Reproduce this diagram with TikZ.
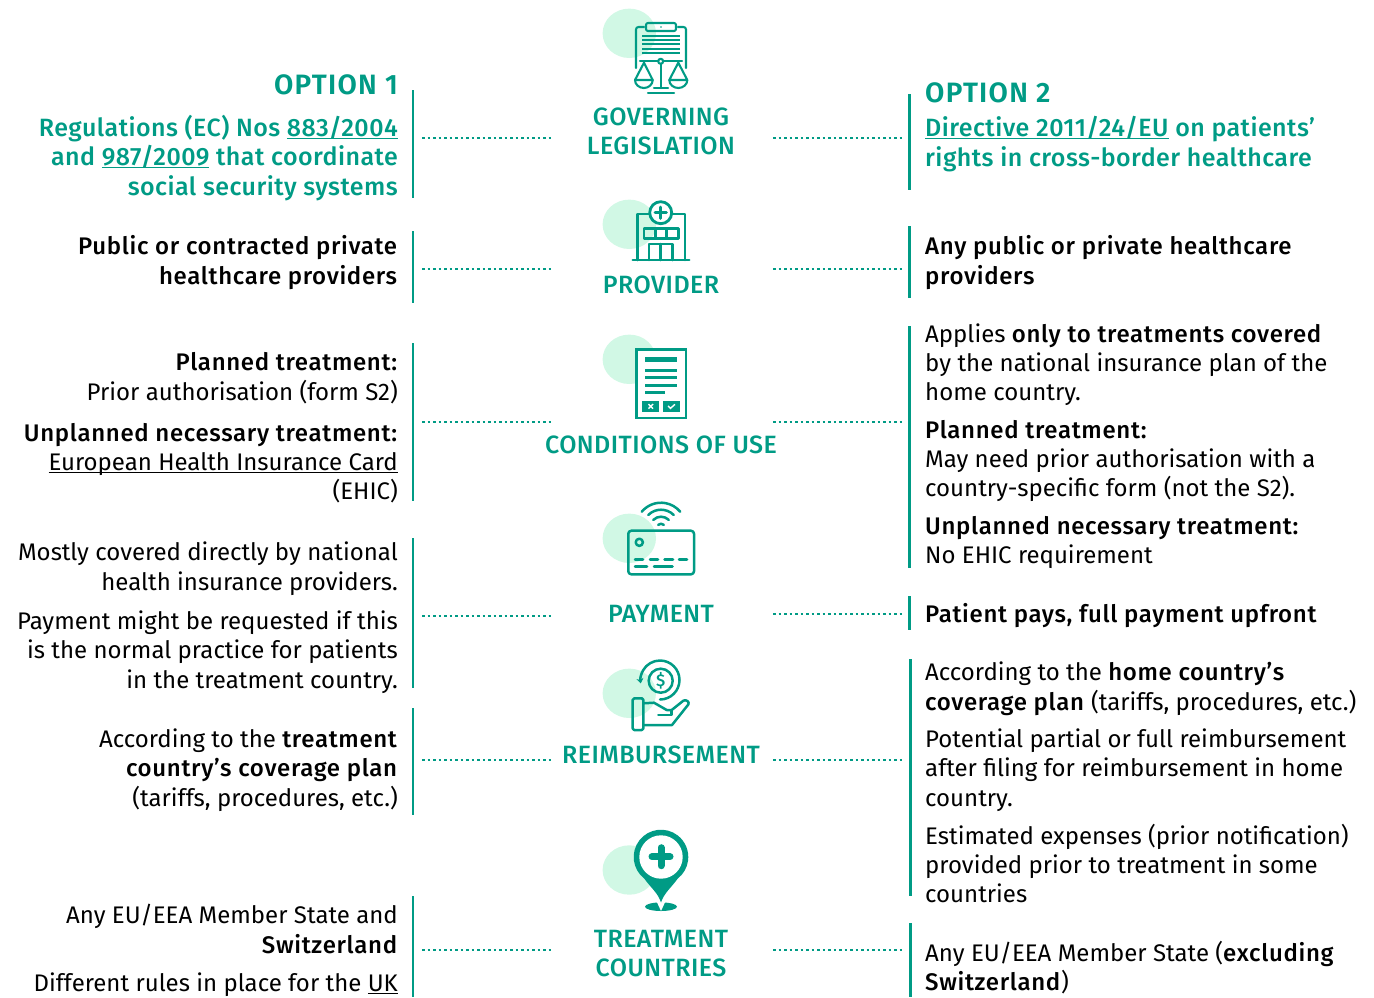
\documentclass[tikz,border=0pt]{standalone}
\usepackage{fontspec}
\setmainfont{Fira Sans}[BoldFont={Fira Sans Medium},BoldFeatures={LetterSpace=2.8}]
\newfontfamily\medfont{Fira Sans Medium}[LetterSpace=1.8]
\newfontfamily\headfont{Fira Sans SemiBold}[LetterSpace=4.5]
\usetikzlibrary{arrows.meta}
\definecolor{teal}{HTML}{009B85}
\definecolor{mint}{HTML}{D1F8E5}
\newsavebox{\ulbox}
\newcommand{\ulx}[1]{\leavevmode\sbox{\ulbox}{#1}\rlap{\rule[-2.6pt]{\wd\ulbox}{1.1pt}}\usebox{\ulbox}}
\tikzset{
  body/.style={inner sep=0pt,font=\fontsize{24}{29.2}\selectfont,text=black},
  ltxt/.style={body,anchor=base east,align=right},
  rtxt/.style={body,anchor=base west,align=left},
  lnk/.style={font=\fontsize{25}{29.2}\selectfont\medfont,text=teal},
  head/.style={inner sep=0pt,font=\fontsize{28}{30}\selectfont\headfont,text=teal},
  cat/.style={inner sep=0pt,anchor=base,align=center,font=\fontsize{25}{29.2}\selectfont\medfont,text=teal},
  bar/.style={draw=teal,line width=2.2pt},
  dots/.style={draw=teal,line width=2pt,dash pattern=on 2.5pt off 3pt},
  ic/.style={draw=teal,line width=2.5pt,line cap=round,line join=round},
  blob/.style={fill=mint,draw=none},
}
\begin{document}
\begin{tikzpicture}[x=1pt,y=-1pt]
\useasboundingbox (0,0) rectangle (1374,997);
% blobs
\foreach \n/\y in {a/33.3,b/224.3,c/359.3,d/538.3,e/693.3,f/870}{
  \fill[blob] (629.3,\y) ellipse [x radius=26.7,y radius=24.7];
}
% vertical bars
\foreach \n/\x/\a/\b in {l1/413/90/198,l2/413/231/303,l3/413/343/501,l4/413/538/688,l5/413/708/815,l6/413/896/997,
 r1/909.5/94/190,r2/909.5/226/298,r3/909.5/326/568,r4/909.5/596/630,r5/910.5/659/896,r6/910.5/923/997}{
  \coordinate (\n a) at (\x,\a);
  \coordinate (\n b) at (\x,\b);
  \draw[bar] (\n a) -- (\n b);
}
% dotted connectors
\foreach \n/\y/\z in {1/138/138,2/268.5/268.5,3/422/422,4/616/614,5/760/760,6/950/950}{
  \coordinate (dla\n) at (422,\y);
  \coordinate (dlb\n) at (552,\y);
  \coordinate (dra\n) at (773,\z);
  \coordinate (drb\n) at (903,\z);
  \draw[dots] (dla\n) -- (dlb\n);
  \draw[dots] (dra\n) -- (drb\n);
}
% centre labels
\node[cat] (c1) at (661,154.5) {GOVERNING\\LEGISLATION};
\node[cat] (c2) at (661,293.5) {PROVIDER};
\node[cat] (c3) at (661,453.5) {CONDITIONS OF USE};
\node[cat] (c4) at (661,622) {PAYMENT};
\node[cat] (c5) at (661,763) {REIMBURSEMENT};
\node[cat] (c6) at (661,976.5) {TREATMENT\\COUNTRIES};
% left
\node[head,anchor=base east] (o1) at (398,94) {OPTION 1};
\node[ltxt,lnk] (t1) at (398,195) {Regulations (EC) Nos \ulx{883/2004}\\and \ulx{987/2009} that coordinate\\social security systems};
\node[ltxt] (t2) at (398,284) {\textbf{Public or contracted private}\\\textbf{healthcare providers}};
\node[ltxt] (t3) at (398,400) {\textbf{Planned treatment:}\\Prior authorisation (form S2)};
\node[ltxt] (t4) at (398,499.5) {\textbf{Unplanned necessary treatment:}\\\ulx{European Health Insurance Card}\\(EHIC)};
\node[ltxt] (t5) at (398,590) {Mostly covered directly by national\\health insurance providers.};
\node[ltxt] (t6) at (398,688) {Payment might be requested if this\\is the normal practice for patients\\in the treatment country.};
\node[ltxt] (t7) at (398,806) {According to the \textbf{treatment}\\\textbf{country’s coverage plan}\\(tariffs, procedures, etc.)};
\node[ltxt] (t8) at (398,953) {Any EU/EEA Member State and\\\textbf{Switzerland}};
\node[ltxt] (t9) at (398,991) {Different rules in place for the \ulx{UK}};
% right
\node[head,anchor=base west] (o2) at (925,102) {OPTION 2};
\node[rtxt,lnk] (u1) at (925,166) {\ulx{Directive 2011/24/EU} on patients’\\rights in cross-border healthcare};
\node[rtxt] (u2) at (925,284) {\textbf{Any public or private healthcare}\\\textbf{providers}};
\node[rtxt] (u3) at (925,400.5) {Applies \textbf{only to treatments covered}\\by the national insurance plan of the\\home country.};
\node[rtxt] (u4) at (925,496.5) {\textbf{Planned treatment:}\\May need prior authorisation with a\\country-specific form (not the S2).};
\node[rtxt] (u5) at (925,563.5) {\textbf{Unplanned necessary treatment:}\\No EHIC requirement};
\node[rtxt] (u6) at (925,622) {\textbf{Patient pays, full payment upfront}};
\node[rtxt] (u7) at (925,710) {According to the \textbf{home country’s}\\\textbf{coverage plan} (tariffs, procedures, etc.)};
\node[rtxt] (u8) at (925,806) {Potential partial or full reimbursement\\after filing for reimbursement in home\\country.};
\node[rtxt] (u9) at (925,902.5) {Estimated expenses (prior notification)\\provided prior to treatment in some\\countries};
\node[rtxt] (u10) at (925,990.5) {Any EU/EEA Member State (\textbf{excluding}\\\textbf{Switzerland})};
% icon 1
\begin{scope}[ic/.append style={line width=2.1pt}]
\draw[ic] (644,27) -- (638.5,27) arc[start angle=270,end angle=180,radius=2.5] -- (636,68);
\draw[ic] (678,27) -- (683.5,27) arc[start angle=270,end angle=360,radius=2.5] -- (686,68);
\draw[ic,rounded corners=2pt] (646,23) rectangle (676,31);
\fill[teal] (661,27) circle (0.9);
\foreach \y in {36,40,44,49,53}{\draw[ic,line cap=butt] (642,\y) -- (680,\y);}
\draw[ic] (640,61.3) -- (682,61.3);
\draw[ic,fill=white] (660.7,61.3) circle (2.5);
\draw[ic] (660.7,64) -- (660.7,88);
\draw[ic] (654,88) -- (668,88);
\draw[ic] (648,92.7) -- (674,92.7);
\draw[ic] (644,62.7) -- (635,80) -- (652.7,80) -- cycle;
\draw[ic] (635,80) arc[start angle=180,end angle=0,x radius=8.85,y radius=8];
\draw[ic] (678.3,62.7) -- (669.3,80) -- (687.3,80) -- cycle;
\draw[ic] (669.3,80) arc[start angle=180,end angle=0,x radius=9,y radius=8];
\end{scope}
% icon 2
\draw[ic] (637.3,260) -- (637.3,214) -- (685,214) -- (685,260);
\draw[ic] (632.7,260) -- (689.3,260);
\draw[ic,line width=2.8pt,fill=white] (660.7,212.7) circle (11);
\draw[ic,line width=3pt] (655,212.7) -- (666.4,212.7) (660.7,207) -- (660.7,218.4);
\draw[ic] (644,228.3) rectangle (678.3,238.3);
\draw[ic] (655.3,228.3) -- (655.3,238.3) (666.7,228.3) -- (666.7,238.3);
\draw[ic] (649,260) -- (649,244) -- (672.3,244) -- (672.3,260) (660.7,244) -- (660.7,260);
% icon 3
\draw[draw=teal,line width=2.8pt,fill=white] (636.3,349.5) rectangle (686,418);
\fill[teal] (645,357.3) rectangle (677,361.7);
\foreach \y/\e in {370.3/677,377.3/677,385.3/677,392.3/665}{\fill[teal] (645,\y-1.4) rectangle (\e,\y+1.4);}
\fill[teal] (642.3,401) rectangle (659.3,411.7);
\fill[teal] (662.7,401) rectangle (679.7,411.7);
\draw[white,line width=1.4pt] (648.5,404) -- (653,408.7) (653,404) -- (648.5,408.7);
\draw[white,line width=1.4pt] (668,406) -- (670.5,408.3) -- (675,404.3);
% icon 4
\draw[ic,rounded corners=3pt] (628.3,530.7) rectangle (694,574.3);
\draw[ic] (639.3,542.3) circle (3.6);
\foreach \a/\b in {635/643,650/658,664.5/673,679/687}{\draw[ic] (\a,559.7) -- (\b,559.7);}
\foreach \a/\b in {635/647,654/672.5}{\draw[ic] (\a,566.7) -- (\b,566.7);}
\coordinate (wc) at (661,527.7);
\draw[ic] ([shift={(220:25)}]wc) arc[start angle=220,end angle=320,radius=25];
\draw[ic] ([shift={(225:18)}]wc) arc[start angle=225,end angle=315,radius=18];
\draw[ic] ([shift={(225:11)}]wc) arc[start angle=225,end angle=315,radius=11];
\draw[ic] ([shift={(225:4)}]wc) arc[start angle=225,end angle=315,radius=4];
% icon 5
\draw[ic] (660.7,680.7) circle (12);
\node[inner sep=0pt,text=teal,font=\fontsize{17}{17}\selectfont\bfseries] (dollar) at (660.7,680.7) {\$};
\draw[ic,-{Stealth[length=5pt,width=7pt]}] (660,699.5) arc[start angle=90,end angle=-190,x radius=19.5,y radius=19.5];
\draw[ic,rounded corners=1.5pt] (632.7,698.3) rectangle (643.3,730);
\draw[ic,line join=round] (643.3,703.3) -- (654,702.7) -- (666.7,710) -- (671.7,710) -- (683.3,700.7) .. controls (686,699) and (690,702) .. (688.3,704.5) -- (672,725) -- (643.3,725);
\draw[ic] (658.3,715) -- (671.7,715) -- (671.7,710);
% icon 6
\fill[teal] (661,906.7) ellipse [x radius=16,y radius=4.3];
\fill[white] (661,911) -- (655,898) -- (667,898) -- cycle;
\fill[teal] (661,902.5) .. controls (658,893) and (651,888) .. (644.3,878.6) arc[start angle=127.7,end angle=412.3,radius=27.3] .. controls (671,888) and (664,893) .. (661,902.5) -- cycle;
\fill[white] (661,857) circle (21.7);
\draw[teal,line width=7pt,line cap=round] (652,856.7) -- (670,856.7) (661,847.7) -- (661,865.7);
\end{tikzpicture}
\end{document}
